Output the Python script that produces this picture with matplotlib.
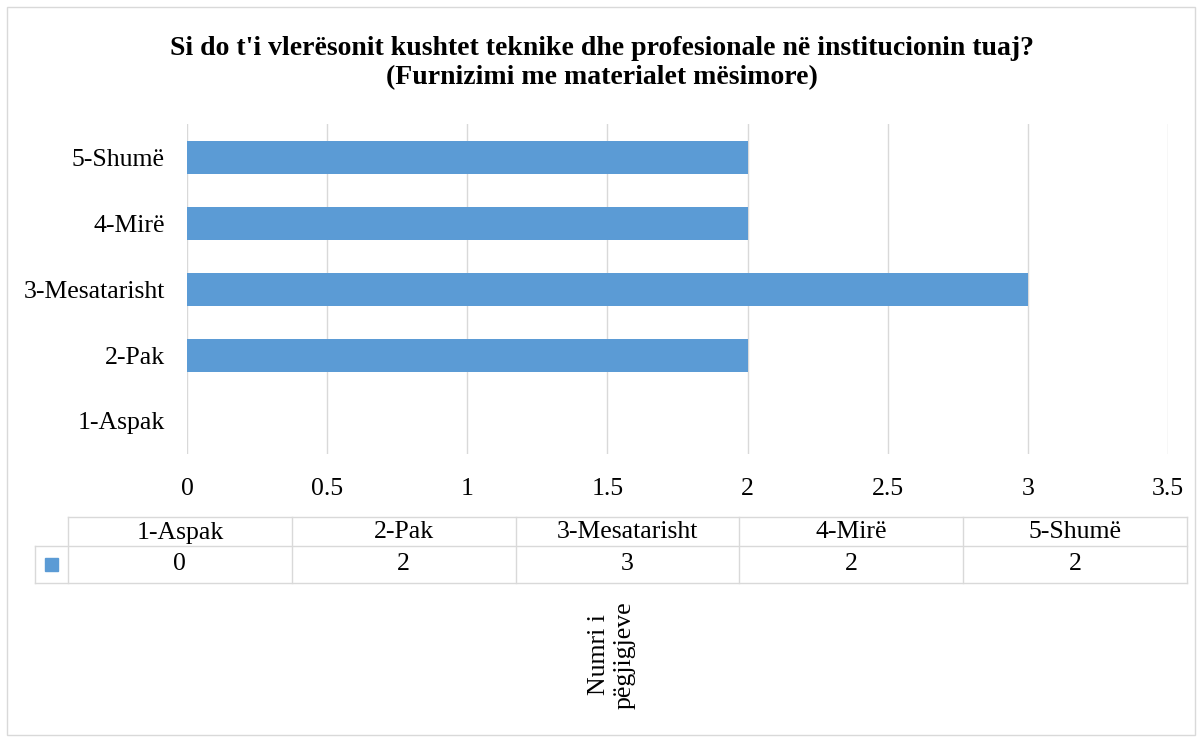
import numpy as np
import matplotlib.pyplot as plt

plt.rcParams['font.family'] = ['Liberation Serif', 'DejaVu Serif']

categories = ['1-Aspak', '2-Pak', '3-Mesatarisht', '4-Mirë', '5-Shumë']
counts = [0, 2, 3, 2, 2]
xticks = [0, 0.5, 1, 1.5, 2, 2.5, 3, 3.5]
xtick_labels = ['0', '0.5', '1', '1.5', '2', '2.5', '3', '3.5']
title = "Si do t'i vlerësonit kushtet teknike dhe profesionale në institucionin tuaj?\n(Furnizimi me materialet mësimore)"
axis_label = 'Numri i\npëgjigjeve'

W, H = 1203, 742
bar_color = '#5B9BD5'
grid_color = '#D9D9D9'
fs = 18.5

fig = plt.figure(figsize=(W / 100, H / 100), dpi=100)

# outer chart border
fig.patches.append(plt.Rectangle((7 / W, 1 - 735 / H), 1188 / W, 728 / H,
                                 transform=fig.transFigure, fill=False,
                                 edgecolor='#D9D9D9', linewidth=1))

fig.text(0.5, 1 - 63 / H, title, ha='center', va='center', fontsize=20,
         fontweight='bold', linespacing=1.25)

ax = fig.add_axes([187 / W, 1 - 454 / H, (1168 - 187) / W, (454 - 124) / H])
y = np.arange(len(categories))
ax.barh(y, counts, height=0.5, color=bar_color, zorder=2)
ax.set_xlim(0, 3.5)
ax.set_ylim(-0.5, len(categories) - 0.5)
ax.set_xticks(xticks)
ax.set_xticklabels(xtick_labels)
ax.set_yticks(y)
ax.set_yticklabels(categories)
ax.tick_params(axis='both', length=0, labelsize=fs, colors='#000000')
ax.tick_params(axis='x', pad=17)
ax.tick_params(axis='y', pad=16)
ax.xaxis.grid(True, color=grid_color, linewidth=1, zorder=0)
for s in ax.spines.values():
    s.set_visible(False)

# data table under the chart
tax = fig.add_axes([0, 0, 1, 1])
tax.set_xlim(0, W)
tax.set_ylim(H, 0)
tax.axis('off')
key_l, key_r, right = 35, 68, 1187
top, mid, bot = 517, 546, 583
col_w = (right - key_r) / len(categories)
lc = '#D9D9D9'
tax.plot([key_r, right], [top, top], color=lc, lw=1)
tax.plot([key_l, right], [mid, mid], color=lc, lw=1)
tax.plot([key_l, right], [bot, bot], color=lc, lw=1)
tax.plot([key_l, key_l], [mid, bot], color=lc, lw=1)
for i in range(len(categories) + 1):
    x = key_r + i * col_w
    tax.plot([x, x], [top, bot], color=lc, lw=1)
for i, (c, v) in enumerate(zip(categories, counts)):
    xc = key_r + (i + 0.5) * col_w
    tax.text(xc, (top + mid) / 2 + 1, c, ha='center', va='center', fontsize=fs)
    tax.text(xc, (mid + bot) / 2, str(v), ha='center', va='center', fontsize=fs)
tax.add_patch(plt.Rectangle((45, 558), 13, 13, color=bar_color))

fig.text(612 / W, 1 - 655 / H, axis_label, rotation=90, ha='center', va='center',
         fontsize=fs, linespacing=1.2)

fig.savefig('out.png', dpi=100)
